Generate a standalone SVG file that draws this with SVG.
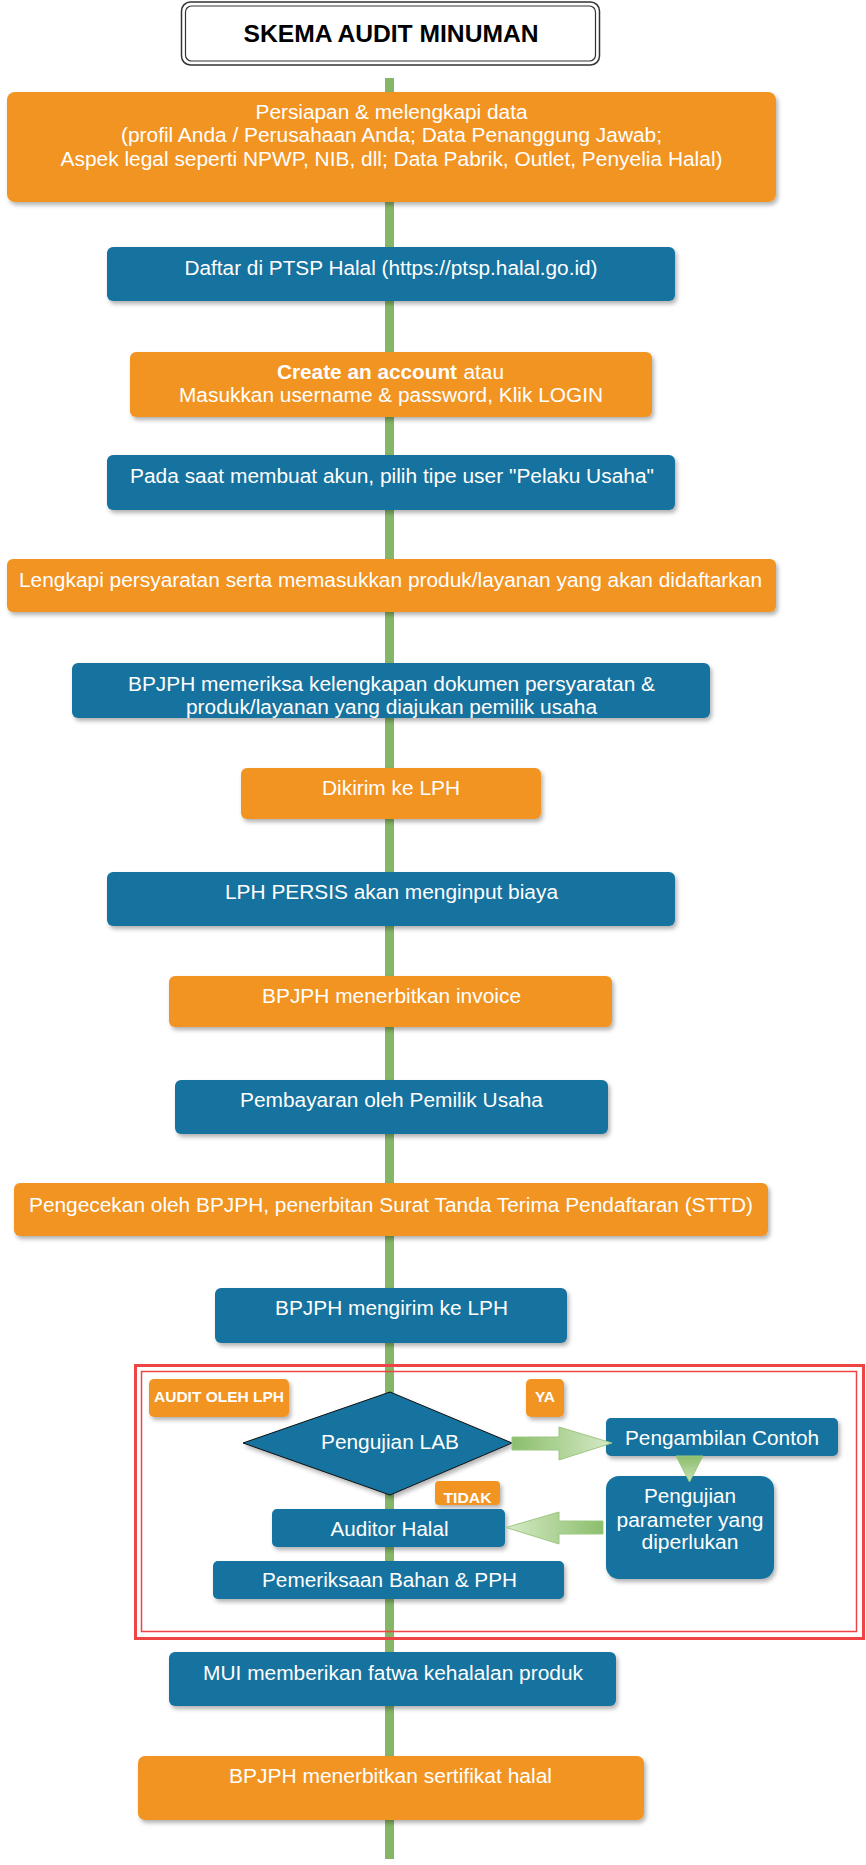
<svg xmlns="http://www.w3.org/2000/svg" width="866" height="1865" viewBox="0 0 866 1865">
<style>
.o{fill:#F29422;filter:url(#sh)}
.b{fill:#15729E;filter:url(#sh)}
.t{font-family:"Liberation Sans",Arial,sans-serif;font-size:20px;fill:#fff;text-anchor:middle}
.tb{font-family:"Liberation Sans",Arial,sans-serif;font-size:15.5px;font-weight:bold;fill:#fff;text-anchor:middle}
</style>
<defs>
<filter id="sh" x="-10%" y="-20%" width="125%" height="150%">
<feDropShadow dx="2" dy="3" stdDeviation="2" flood-color="#000" flood-opacity="0.3"/>
</filter>
<linearGradient id="gr" x1="0" y1="0" x2="1" y2="0">
<stop offset="0" stop-color="#8BBE6C"/><stop offset="1" stop-color="#D6EAC6"/>
</linearGradient>
<linearGradient id="gl" x1="1" y1="0" x2="0" y2="0">
<stop offset="0" stop-color="#8BBE6C"/><stop offset="1" stop-color="#D6EAC6"/>
</linearGradient>
<linearGradient id="gd" x1="0" y1="0" x2="0" y2="1">
<stop offset="0" stop-color="#8BBE6C"/><stop offset="1" stop-color="#C8E2B4"/>
</linearGradient>
</defs>
<rect width="866" height="1865" fill="#fff"/>

<g id="connectors">
<rect x="385" y="78" width="9" height="1781" fill="#85B566"/>
</g>

<g id="title">
<rect x="181.5" y="2" width="418" height="63" rx="9" fill="#fff" stroke="#333" stroke-width="1.5"/>
<rect x="185.5" y="6" width="410" height="55" rx="6" fill="none" stroke="#333" stroke-width="1.2"/>
<text x="391" y="42" font-family="'Liberation Sans',Arial,sans-serif" font-size="24" font-weight="bold" text-anchor="middle" fill="#000" textLength="295" lengthAdjust="spacingAndGlyphs">SKEMA AUDIT MINUMAN</text>
</g>

<g id="n1">
<rect class="o" x="7" y="92" width="769" height="110" rx="8"/>
<text class="t" x="391.5" y="118.5" textLength="272" lengthAdjust="spacingAndGlyphs">Persiapan &amp; melengkapi data</text>
<text class="t" x="391.5" y="142" textLength="541" lengthAdjust="spacingAndGlyphs">(profil Anda / Perusahaan Anda; Data Penanggung Jawab;</text>
<text class="t" x="391.5" y="165.5" textLength="662" lengthAdjust="spacingAndGlyphs">Aspek legal seperti NPWP, NIB, dll; Data Pabrik, Outlet, Penyelia Halal)</text>
</g>

<g id="n2">
<rect class="b" x="107" y="247" width="568" height="54" rx="6"/>
<text class="t" x="391" y="275" textLength="413" lengthAdjust="spacingAndGlyphs">Daftar di PTSP Halal (https://ptsp.halal.go.id)</text>
</g>

<g id="n3">
<rect class="o" x="130" y="352" width="522" height="65" rx="6"/>
<text class="t" x="277" y="379" style="text-anchor:start;font-weight:bold" textLength="180" lengthAdjust="spacingAndGlyphs">Create an account</text>
<text class="t" x="463.5" y="379" style="text-anchor:start" textLength="40.5" lengthAdjust="spacingAndGlyphs">atau</text>
<text class="t" x="391" y="402" textLength="424" lengthAdjust="spacingAndGlyphs">Masukkan username &amp; password, Klik LOGIN</text>
</g>

<g id="n4">
<rect class="b" x="107" y="455" width="568" height="55" rx="6"/>
<text class="t" x="392" y="483" textLength="524" lengthAdjust="spacingAndGlyphs">Pada saat membuat akun, pilih tipe user "Pelaku Usaha"</text>
</g>

<g id="n5">
<rect class="o" x="7" y="559" width="769" height="53" rx="6"/>
<text class="t" x="390.5" y="587" textLength="743" lengthAdjust="spacingAndGlyphs">Lengkapi persyaratan serta memasukkan produk/layanan yang akan didaftarkan</text>
</g>

<g id="n6">
<rect class="b" x="72" y="663" width="638" height="55" rx="6"/>
<text class="t" x="391.5" y="691" textLength="527" lengthAdjust="spacingAndGlyphs">BPJPH memeriksa kelengkapan dokumen persyaratan &amp;</text>
<text class="t" x="391.5" y="714" textLength="411" lengthAdjust="spacingAndGlyphs">produk/layanan yang diajukan pemilik usaha</text>
</g>

<g id="n7">
<rect class="o" x="241" y="768" width="300" height="51" rx="6"/>
<text class="t" x="391" y="795" textLength="138" lengthAdjust="spacingAndGlyphs">Dikirim ke LPH</text>
</g>

<g id="n8">
<rect class="b" x="107" y="872" width="568" height="54" rx="6"/>
<text class="t" x="391.5" y="899" textLength="333" lengthAdjust="spacingAndGlyphs">LPH PERSIS akan menginput biaya</text>
</g>

<g id="n9">
<rect class="o" x="169" y="976" width="443" height="51" rx="6"/>
<text class="t" x="391.5" y="1003" textLength="259" lengthAdjust="spacingAndGlyphs">BPJPH menerbitkan invoice</text>
</g>

<g id="n10">
<rect class="b" x="175" y="1080" width="433" height="54" rx="6"/>
<text class="t" x="391.5" y="1107" textLength="303" lengthAdjust="spacingAndGlyphs">Pembayaran oleh Pemilik Usaha</text>
</g>

<g id="n11">
<rect class="o" x="14" y="1183" width="754" height="53" rx="6"/>
<text class="t" x="391" y="1212" textLength="724" lengthAdjust="spacingAndGlyphs">Pengecekan oleh BPJPH, penerbitan Surat Tanda Terima Pendaftaran (STTD)</text>
</g>

<g id="n12">
<rect class="b" x="215" y="1288" width="352" height="55" rx="6"/>
<text class="t" x="391.5" y="1315" textLength="233" lengthAdjust="spacingAndGlyphs">BPJPH mengirim ke LPH</text>
</g>

<g id="audit-frame">
<rect x="135.5" y="1365.5" width="728" height="273" fill="none" stroke="#EE4444" stroke-width="3"/>
<rect x="141.5" y="1371.5" width="715" height="260" fill="none" stroke="#EE4444" stroke-width="1.5"/>
</g>

<g id="lbl-audit">
<rect class="o" x="149" y="1379" width="140" height="38" rx="5"/>
<text class="tb" x="219" y="1402" textLength="130" lengthAdjust="spacingAndGlyphs">AUDIT OLEH LPH</text>
</g>

<g id="lbl-ya">
<rect class="o" x="526" y="1379" width="38" height="38" rx="5"/>
<text class="tb" x="545" y="1402">YA</text>
</g>

<g id="n-lab">
<polygon points="243,1443 390,1392 512,1443 390,1495" fill="#15729E" stroke="#111" stroke-width="1" filter="url(#sh)"/>
<text class="t" x="390" y="1449" textLength="138" lengthAdjust="spacingAndGlyphs">Pengujian LAB</text>
</g>

<g id="lbl-tidak">
<rect class="o" x="435" y="1481" width="65" height="24" rx="4"/>
<text class="tb" x="467.5" y="1503" textLength="48" lengthAdjust="spacingAndGlyphs">TIDAK</text>
</g>

<g id="n-contoh">
<rect class="b" x="606" y="1418" width="232" height="38" rx="5"/>
<text class="t" x="722" y="1445" textLength="194" lengthAdjust="spacingAndGlyphs">Pengambilan Contoh</text>
</g>

<g id="n-param">
<rect class="b" x="606" y="1476" width="168" height="103" rx="13"/>
<text class="t" x="690" y="1503" textLength="92" lengthAdjust="spacingAndGlyphs">Pengujian</text>
<text class="t" x="690" y="1527" textLength="147" lengthAdjust="spacingAndGlyphs">parameter yang</text>
<text class="t" x="690" y="1549" textLength="97" lengthAdjust="spacingAndGlyphs">diperlukan</text>
</g>

<g id="n-auditor">
<rect class="b" x="272" y="1509" width="233" height="38" rx="5"/>
<text class="t" x="389.5" y="1536" textLength="118" lengthAdjust="spacingAndGlyphs">Auditor Halal</text>
</g>

<g id="n-bahan">
<rect class="b" x="213" y="1561" width="351" height="38" rx="5"/>
<text class="t" x="389.5" y="1587" textLength="255" lengthAdjust="spacingAndGlyphs">Pemeriksaan Bahan &amp; PPH</text>
</g>

<g id="arrows">
<polygon points="512,1437 559,1437 559,1427 612,1443 559,1460 559,1450 512,1450" fill="url(#gr)" stroke="#9CC782" stroke-width="1"/>
<polygon points="676,1456 703,1456 689.5,1482" fill="url(#gd)" stroke="#9CC782" stroke-width="1"/>
<polygon points="603,1521 559,1521 559,1512 506,1527.5 559,1544 559,1534 603,1534" fill="url(#gl)" stroke="#9CC782" stroke-width="1"/>
</g>

<g id="n13">
<rect class="b" x="169" y="1652" width="447" height="54" rx="6"/>
<text class="t" x="393" y="1680" textLength="380" lengthAdjust="spacingAndGlyphs">MUI memberikan fatwa kehalalan produk</text>
</g>

<g id="n14">
<rect class="o" x="138" y="1756" width="506" height="64" rx="7"/>
<text class="t" x="390.5" y="1783" textLength="323" lengthAdjust="spacingAndGlyphs">BPJPH menerbitkan sertifikat halal</text>
</g>
</svg>
